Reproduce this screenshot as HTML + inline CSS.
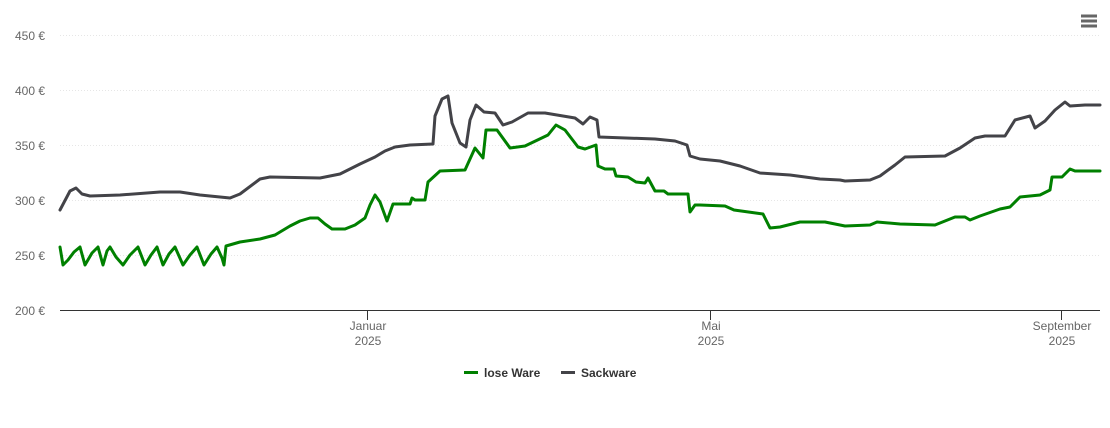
<!DOCTYPE html>
<html><head><meta charset="utf-8"><style>
body{margin:0;background:#fff;font-family:"Liberation Sans",sans-serif}
svg text{font-family:"Liberation Sans",sans-serif}
</style></head><body>
<svg width="1110" height="423" viewBox="0 0 1110 423">
<rect width="1110" height="423" fill="#fff"/>
<g stroke="#e6e6e6" stroke-dasharray="1,2" stroke-width="1">
<line x1="60" x2="1100" y1="35.5" y2="35.5"/>
<line x1="60" x2="1100" y1="90.5" y2="90.5"/>
<line x1="60" x2="1100" y1="145.5" y2="145.5"/>
<line x1="60" x2="1100" y1="200.5" y2="200.5"/>
<line x1="60" x2="1100" y1="255.5" y2="255.5"/>
</g>
<line x1="60" x2="1100" y1="310.5" y2="310.5" stroke="#333"/>
<g stroke="#333"><line x1="367.5" x2="367.5" y1="310" y2="320"/><line x1="710.5" x2="710.5" y1="310" y2="320"/><line x1="1061.5" x2="1061.5" y1="310" y2="320"/></g>
<g font-size="12" fill="#666" text-anchor="end">
<text x="45" y="40">450 €</text><text x="45" y="95">400 €</text><text x="45" y="150">350 €</text>
<text x="45" y="205">300 €</text><text x="45" y="260">250 €</text><text x="45" y="315">200 €</text>
</g>
<g font-size="12" fill="#666" text-anchor="middle">
<text x="368" y="330">Januar</text><text x="368" y="345">2025</text>
<text x="711" y="330">Mai</text><text x="711" y="345">2025</text>
<text x="1062" y="330">September</text><text x="1062" y="345">2025</text>
</g>
<g fill="none" stroke-width="3" stroke-linejoin="round" stroke-linecap="round">
<polyline stroke="#434348" points="60,210 70,191 76,188 82,194 90,196 120,195 160,192 180,192 200,195 230,198 240,194 260,179 270,177 320,178 340,174 360,164 375,157 385,151 395,147 410,145 433,144 435,116 442,99 448,96 452,123 460,143 466,147 470,120 476,105 484,112 495,113 503,125 512,122 528,113 545,113 575,118 583,124 590,117 597,120 599,137 655,139 675,141 687,145 690,156 700,159 720,161 740,166 760,173 790,175 820,179 840,180 845,181 870,180 880,176 895,165 905,157 945,156 960,148 975,138 985,136 1005,136 1015,120 1030,116 1035,128 1045,121 1055,110 1065,102 1070,106 1085,105 1100,105"/>
<polyline stroke="#008000" points="60,247 63,265 68,260 74,252 80,247 85,265 92,253 98,247 103,265 107,251 110,247 116,257 123,265 130,255 138,247 145,265 151,255 157,247 163,265 169,254 175,247 183,265 190,255 197,247 204,265 211,254 217,247 222,258 224,265 226,246 240,242 260,239 275,235 290,226 300,221 310,218 318,218 325,224 332,229 345,229 355,225 365,218 370,205 375,195 380,202 387,221 393,204 410,204 412,198 415,200 425,200 428,182 440,171 465,170 475,148 483,158 486,130 497,130 510,148 525,146 548,135 556,125 565,130 578,147 585,149 596,145 598,166 605,169 614,169 616,176 628,177 636,182 645,183 648,178 655,191 664,191 668,194 688,194 690,212 695,205 700,205 725,206 734,210 763,214 770,228 780,227 800,222 825,222 845,226 870,225 877,222 900,224 935,225 955,217 965,217 970,220 980,216 1000,209 1010,207 1020,197 1040,195 1050,190 1052,177 1062,177 1070,169 1075,171 1100,171"/>
</g>
<line x1="464" x2="478" y1="372.5" y2="372.5" stroke="#008000" stroke-width="3"/>
<text x="484" y="377" font-size="12" font-weight="bold" fill="#333">lose Ware</text>
<line x1="561" x2="575" y1="372.5" y2="372.5" stroke="#434348" stroke-width="3"/>
<text x="581" y="377" font-size="12" font-weight="bold" fill="#333">Sackware</text>
<g stroke="#666" stroke-width="3"><line x1="1081" x2="1097" y1="16" y2="16"/><line x1="1081" x2="1097" y1="21" y2="21"/><line x1="1081" x2="1097" y1="26" y2="26"/></g>
</svg>
</body></html>
